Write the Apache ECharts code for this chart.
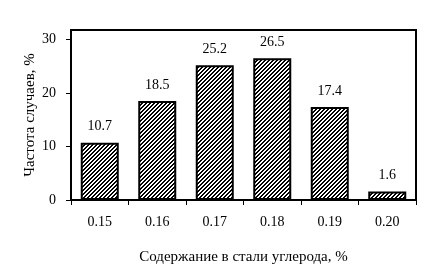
<!DOCTYPE html>
<html>
<head>
<meta charset="utf-8">
<script src="https://cdn.jsdelivr.net/npm/echarts@6/dist/echarts.min.js"></script>
<style>html,body{margin:0;padding:0;background:#fff}#c{width:430px;height:278px}</style>
</head>
<body>
<div id="c"></div>
<script>
const categories = ['0.15', '0.16', '0.17', '0.18', '0.19', '0.20'];
const values = [10.7, 18.5, 25.2, 26.5, 17.4, 1.6];
const yTicks = [0, 10, 20, 30];
const xTitle = 'Содержание в стали углерода, %';
const yTitle = 'Частота случаев, %';

function hatch() {
  const c = document.createElement('canvas');
  c.width = 4; c.height = 4;
  const g = c.getContext('2d');
  g.fillStyle = '#fff'; g.fillRect(0, 0, 4, 4);
  g.fillStyle = '#000';
  for (let x = 0; x < 4; x++) for (let y = 0; y < 4; y++) {
    const m = (x + y) % 4;
    if (m === 0 || m === 1) g.fillRect(x, y, 1, 1);
  }
  return c;
}

const font = 'Liberation Serif';
const chart = echarts.init(document.getElementById('c'), null, {renderer: 'canvas'});
chart.setOption({
  animation: false,
  backgroundColor: '#fff',
  grid: {left: 71, right: 14, top: 30, bottom: 78, show: true, borderColor: '#000', borderWidth: 2, backgroundColor: 'transparent'},
  xAxis: {
    type: 'category', data: categories,
    name: xTitle, nameLocation: 'middle', nameGap: 50, nameMoveOverlap: false,
    nameTextStyle: {fontFamily: font, fontSize: 15, color: '#000'},
    axisLine: {lineStyle: {color: '#000', width: 2}},
    axisTick: {show: true, length: 5, lineStyle: {color: '#000', width: 1}},
    axisLabel: {fontFamily: font, fontSize: 14, color: '#000', margin: 15},
    splitLine: {show: false}
  },
  yAxis: {
    type: 'value', min: 0, max: 31.8,
    name: yTitle, nameLocation: 'middle', nameGap: 33, nameMoveOverlap: false,
    nameTextStyle: {fontFamily: font, fontSize: 15, color: '#000'},
    axisLine: {show: true, lineStyle: {color: '#000', width: 2}},
    axisTick: {show: true, length: 5, lineStyle: {color: '#000', width: 1}, customValues: yTicks},
    axisLabel: {fontFamily: font, fontSize: 14, color: '#000', margin: 15, customValues: yTicks},
    splitLine: {show: false}
  },
  series: [{
    type: 'bar', data: values, barWidth: 38,
    itemStyle: {color: {image: hatch(), repeat: 'repeat'}, borderColor: '#000', borderWidth: 2},
    label: {show: true, position: 'top', distance: 9, fontFamily: font, fontSize: 14, color: '#000'}
  }]
});
</script>
</body>
</html>
